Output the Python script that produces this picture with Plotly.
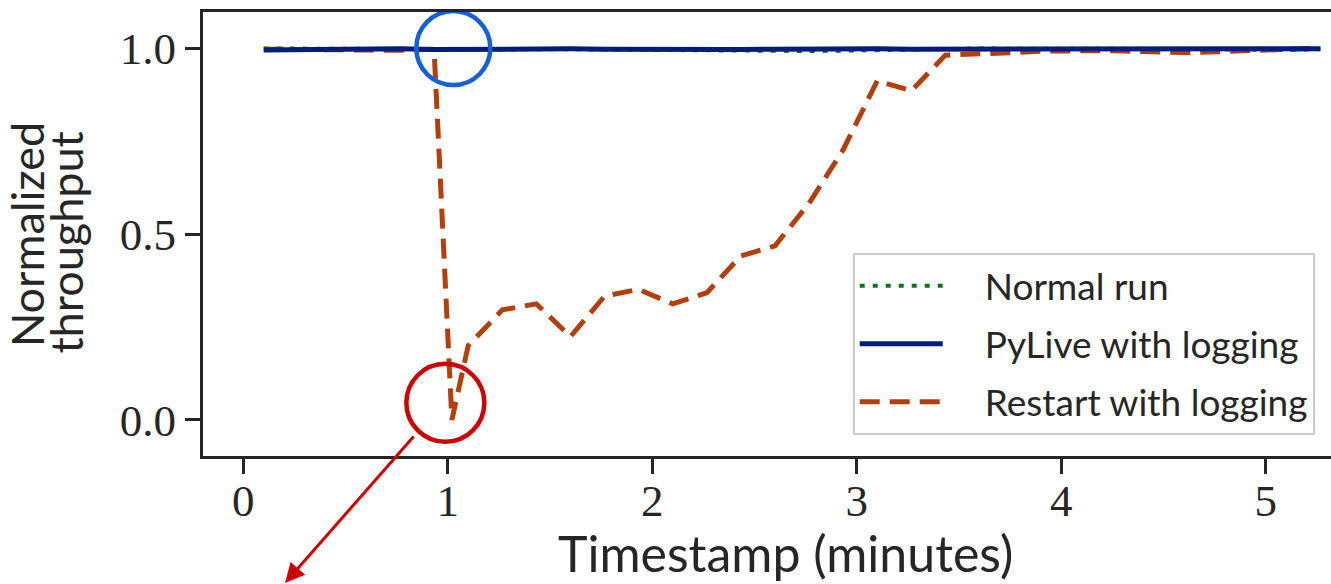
import plotly.graph_objects as go

# ---- data (minutes, normalized throughput) ----
x_normal = [0.100, 0.267, 0.433, 0.600, 0.767, 0.933, 1.100, 1.267, 1.433, 1.600,
            1.767, 1.933, 2.100, 2.267, 2.433, 2.600, 2.767, 2.933, 3.100, 3.267,
            3.433, 3.600, 3.767, 3.933, 4.100, 4.267, 4.433, 4.600, 4.767, 4.933,
            5.100, 5.267]
y_normal = [0.999, 0.999, 0.998, 0.998, 0.999, 0.997, 0.996, 0.997, 0.998, 0.997,
            0.996, 0.995, 0.996, 0.994, 0.992, 0.993, 0.992, 0.993, 0.995, 0.997,
            0.998, 0.999, 0.998, 0.997, 0.998, 0.998, 0.997, 0.996, 0.995, 0.994,
            0.995, 0.997]

x_pylive = x_normal
y_pylive = [0.995, 0.996, 0.998, 0.999, 0.998, 0.996, 0.997, 0.998, 0.999, 0.998,
            0.997, 0.996, 0.995, 0.995, 0.996, 0.997, 0.998, 0.999, 0.998, 0.997,
            0.997, 0.996, 0.996, 0.997, 0.998, 0.998, 0.999, 0.998, 0.997, 0.996,
            0.997, 0.998]

x_restart = [0.100, 0.267, 0.433, 0.600, 0.767, 0.933, 1.020, 1.100, 1.267, 1.433,
             1.600, 1.767, 1.933, 2.100, 2.267, 2.433, 2.600, 2.767, 2.933, 3.100,
             3.267, 3.433, 3.600, 3.767, 3.933, 4.100, 4.267, 4.433, 4.600, 4.767,
             4.933, 5.100, 5.267]
y_restart = [0.997, 0.996, 0.993, 0.992, 0.994, 0.997, 0.000, 0.200, 0.296, 0.312,
             0.224, 0.333, 0.351, 0.312, 0.342, 0.441, 0.468, 0.583, 0.726, 0.912,
             0.885, 0.981, 0.983, 0.988, 0.992, 0.994, 0.993, 0.990, 0.988, 0.990,
             0.994, 0.997, 1.000]

x_ticks = [0, 1, 2, 3, 4, 5]
y_ticks = [0.0, 0.5, 1.0]
y_tick_text = ["0.0", "0.5", "1.0"]

series_names = ["Normal run", "PyLive with logging", "Restart with logging"]

GREEN = "#12711c"
BLUE = "#001c7f"
ORANGE = "#b1400d"
TEXT = "#262626"
SANS = "Lato, 'Open Sans', sans-serif"
SERIF = "'Liberation Serif', 'DejaVu Serif', serif"
PAD = "\u2002\u2002"  # gap between legend sample and label

fig = go.Figure()
fig.add_trace(go.Scatter(x=x_normal, y=y_normal, mode="lines", name=PAD + series_names[0],
                         line=dict(color=GREEN, width=4, dash="5px,8px"),
                         legendrank=1, legendgroup="a"))
fig.add_trace(go.Scatter(x=x_restart, y=y_restart, mode="lines", name=PAD + series_names[2],
                         line=dict(color=ORANGE, width=5, dash="20px,10px"),
                         legendrank=3, legendgroup="c"))
fig.add_trace(go.Scatter(x=x_pylive, y=y_pylive, mode="lines", name=PAD + series_names[1],
                         line=dict(color=BLUE, width=5),
                         legendrank=2, legendgroup="b"))

# highlight circles
fig.add_shape(type="circle", xref="x", yref="y", xsizemode="pixel", ysizemode="pixel",
              xanchor=1.027, yanchor=1.0, x0=-37, x1=37, y0=-37, y1=37,
              line=dict(color="#1560d4", width=4.5))
fig.add_shape(type="circle", xref="x", yref="y", xsizemode="pixel", ysizemode="pixel",
              xanchor=0.988, yanchor=0.046, x0=-39, x1=39, y0=-39, y1=39,
              line=dict(color="#cc0000", width=4.5))

annotations = [
    dict(x=0.0727, y=-0.286, xref="paper", yref="paper", ax=130, ay=-148,
         axref="pixel", ayref="pixel", showarrow=True, arrowhead=2, arrowsize=1.3,
         arrowwidth=3, arrowcolor="#cc0000", text="", standoff=0),
    dict(x=0.516, y=-0.218, xref="paper", yref="paper", text="Timestamp (minutes)",
         showarrow=False, xanchor="center", yanchor="middle",
         font=dict(family=SANS, size=50, color=TEXT)),
    dict(x=-0.156, y=0.4977, xref="paper", yref="paper", text="Normalized",
         showarrow=False, textangle=-90, xanchor="center", yanchor="middle",
         font=dict(family=SANS, size=45, color=TEXT)),
    dict(x=-0.121, y=0.4797, xref="paper", yref="paper", text="throughput",
         showarrow=False, textangle=-90, xanchor="center", yanchor="middle",
         font=dict(family=SANS, size=45, color=TEXT)),
]

fig.update_layout(
    width=1331, height=584,
    margin=dict(l=203, r=0, t=12, b=128),
    paper_bgcolor="white", plot_bgcolor="white",
    annotations=annotations,
    showlegend=True,
    legend=dict(x=0.576, y=0.457, xanchor="left", yanchor="top",
                bgcolor="rgba(255,255,255,0.9)", bordercolor="#cccccc", borderwidth=2,
                font=dict(family=SANS, size=37, color=TEXT),
                itemwidth=83, tracegroupgap=7, traceorder="grouped"),
)
fig.update_xaxes(range=[-0.197, 5.319], tickvals=x_ticks, ticktext=[str(v) for v in x_ticks],
                 showline=True, linecolor=TEXT, linewidth=3, mirror=True,
                 ticks="outside", ticklen=15, tickwidth=3, tickcolor=TEXT,
                 showgrid=False, zeroline=False, ticklabelstandoff=-12,
                 tickfont=dict(family=SERIF, size=45, color=TEXT))
fig.update_yaxes(range=[-0.097, 1.097], tickvals=y_ticks, ticktext=y_tick_text,
                 showline=True, linecolor=TEXT, linewidth=3, mirror=False,
                 ticks="outside", ticklen=15, tickwidth=3, tickcolor=TEXT,
                 showgrid=False, zeroline=False,
                 tickfont=dict(family=SERIF, size=45, color=TEXT))

fig.write_html("out.html", config={"displayModeBar": False},
               post_script="document.body.style.margin='0px';")
